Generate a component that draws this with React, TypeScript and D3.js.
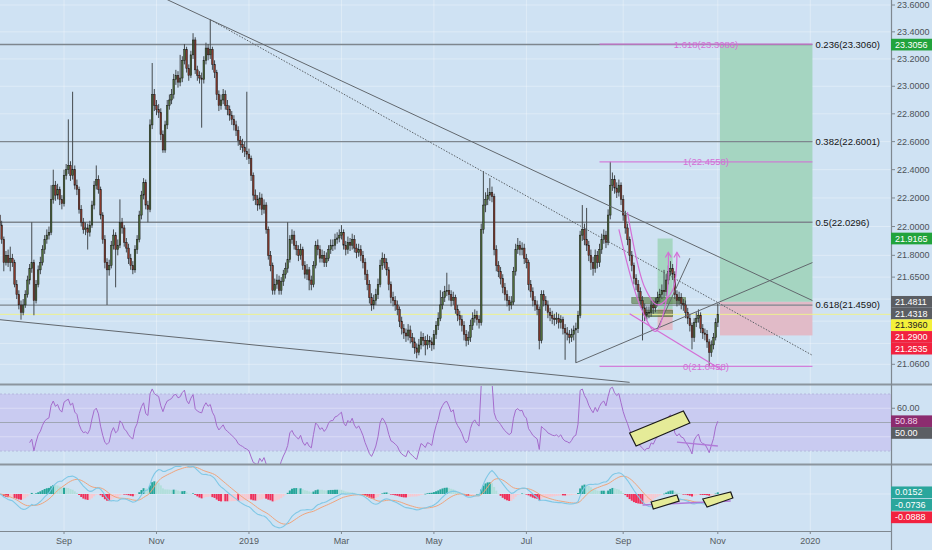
import React, { useMemo } from "react";
import * as d3 from "d3";

const W = 932;
const H = 550;
const FONT = "'Liberation Sans', Arial, sans-serif";

// ---- daily bars (Mon-Fri), first bar on START_DATE ----
const START_DATE = "2018-07-23";

const OPENS = [
  22.08, 22.01, 21.91, 21.75, 21.80, 21.75, 21.78, 21.75, 21.60, 21.53,
  21.46, 21.41, 21.46, 21.53, 21.63, 21.71, 21.75, 21.49, 21.60, 21.70,
  21.75, 21.84, 21.91, 21.94, 21.96, 22.19, 22.29, 22.22, 22.26, 22.19,
  22.16, 22.36, 22.40, 22.43, 22.36, 22.40, 22.29, 22.26, 22.12, 22.03,
  21.98, 21.99, 21.96, 22.01, 22.15, 22.29, 22.33, 22.26, 22.08, 21.91,
  21.75, 21.70, 21.73, 21.87, 21.94, 21.84, 21.87, 22.03, 21.99, 21.89,
  21.85, 21.78, 21.73, 21.70, 21.84, 21.91, 22.08, 22.22, 22.31, 22.15,
  22.12, 22.72, 22.94, 22.86, 22.83, 22.81, 22.65, 22.54, 22.72, 22.86,
  22.90, 22.94, 23.05, 23.08, 23.03, 23.06, 23.19, 23.27, 23.13, 23.08,
  23.23, 23.34, 23.12, 23.08, 23.06, 23.05, 23.19, 23.28, 23.23, 23.27,
  23.16, 23.10, 22.94, 22.86, 22.90, 22.94, 22.86, 22.83, 22.79, 22.76,
  22.72, 22.68, 22.61, 22.58, 22.56, 22.53, 22.51, 22.48, 22.36, 22.22,
  22.19, 22.15, 22.20, 22.12, 22.15, 21.98, 21.80, 21.73, 21.56, 21.60,
  21.63, 21.56, 21.62, 21.67, 21.71, 21.77, 21.91, 21.94, 21.87, 21.84,
  21.80, 21.84, 21.73, 21.67, 21.70, 21.63, 21.60, 21.73, 21.87, 21.84,
  21.78, 21.80, 21.75, 21.78, 21.84, 21.87, 21.87, 21.91, 21.92, 21.94,
  21.96, 21.87, 21.84, 21.89, 21.87, 21.91, 21.85, 21.82, 21.84, 21.80,
  21.75, 21.67, 21.60, 21.51, 21.46, 21.49, 21.53, 21.60, 21.73, 21.78,
  21.75, 21.70, 21.60, 21.51, 21.49, 21.46, 21.43, 21.35, 21.30, 21.27,
  21.25, 21.29, 21.24, 21.21, 21.17, 21.14, 21.19, 21.24, 21.22, 21.19,
  21.22, 21.21, 21.19, 21.26, 21.32, 21.37, 21.46, 21.51, 21.55, 21.56,
  21.53, 21.49, 21.51, 21.43, 21.39, 21.36, 21.32, 21.26, 21.22, 21.24,
  21.32, 21.37, 21.39, 21.36, 21.34, 21.98, 22.15, 22.19, 22.22, 22.24,
  22.21, 21.84, 21.73, 21.69, 21.64, 21.58, 21.53, 21.49, 21.46, 21.48,
  21.69, 21.84, 21.87, 21.84, 21.85, 21.78, 21.75, 21.60, 21.55, 21.49,
  21.46, 21.43, 21.22, 21.53, 21.49, 21.46, 21.41, 21.39, 21.37, 21.36,
  21.37, 21.34, 21.36, 21.30, 21.27, 21.26, 21.24, 21.26, 21.29, 21.30,
  21.39, 21.94, 21.98, 21.91, 21.87, 21.80, 21.75, 21.71, 21.80, 21.75,
  21.84, 21.91, 21.94, 21.89, 22.08, 22.29, 22.33, 22.27, 22.24, 22.29,
  22.19, 22.08, 21.99, 21.91, 21.80, 21.73, 21.64, 21.60, 21.55, 21.49,
  21.44, 21.39, 21.41, 21.41, 21.46, 21.44, 21.48, 21.51, 21.53, 21.56,
  21.55, 21.63, 21.69, 21.71, 21.67, 21.53, 21.49, 21.51, 21.47, 21.46,
  21.41, 21.37, 21.32, 21.24, 21.34, 21.37, 21.39, 21.30, 21.27, 21.26,
  21.21, 21.14, 21.19, 21.24, 21.34,
];

const CLOSES = [
  22.01, 21.91, 21.75, 21.80, 21.75, 21.78, 21.75, 21.60, 21.53, 21.46,
  21.41, 21.46, 21.53, 21.63, 21.71, 21.75, 21.49, 21.60, 21.70, 21.75,
  21.84, 21.91, 21.94, 21.96, 22.19, 22.29, 22.22, 22.26, 22.19, 22.16,
  22.36, 22.40, 22.43, 22.36, 22.40, 22.29, 22.26, 22.12, 22.03, 21.98,
  21.99, 21.96, 22.01, 22.15, 22.29, 22.33, 22.26, 22.08, 21.91, 21.75,
  21.70, 21.73, 21.87, 21.94, 21.84, 21.87, 22.03, 21.99, 21.89, 21.85,
  21.78, 21.73, 21.70, 21.84, 21.91, 22.08, 22.22, 22.31, 22.15, 22.12,
  22.72, 22.94, 22.86, 22.83, 22.81, 22.65, 22.54, 22.72, 22.86, 22.90,
  22.94, 23.05, 23.08, 23.03, 23.06, 23.19, 23.27, 23.13, 23.08, 23.23,
  23.34, 23.12, 23.08, 23.06, 23.05, 23.19, 23.28, 23.23, 23.27, 23.16,
  23.10, 22.94, 22.86, 22.90, 22.94, 22.86, 22.83, 22.79, 22.76, 22.72,
  22.68, 22.61, 22.58, 22.56, 22.53, 22.51, 22.48, 22.36, 22.22, 22.19,
  22.15, 22.20, 22.12, 22.15, 21.98, 21.80, 21.73, 21.56, 21.60, 21.63,
  21.56, 21.62, 21.67, 21.71, 21.77, 21.91, 21.94, 21.87, 21.84, 21.80,
  21.84, 21.73, 21.67, 21.70, 21.63, 21.60, 21.73, 21.87, 21.84, 21.78,
  21.80, 21.75, 21.78, 21.84, 21.87, 21.87, 21.91, 21.92, 21.94, 21.96,
  21.87, 21.84, 21.89, 21.87, 21.91, 21.85, 21.82, 21.84, 21.80, 21.75,
  21.67, 21.60, 21.51, 21.46, 21.49, 21.53, 21.60, 21.73, 21.78, 21.75,
  21.70, 21.60, 21.51, 21.49, 21.46, 21.43, 21.35, 21.30, 21.27, 21.25,
  21.29, 21.24, 21.21, 21.17, 21.14, 21.19, 21.24, 21.22, 21.19, 21.22,
  21.21, 21.19, 21.26, 21.32, 21.37, 21.46, 21.51, 21.55, 21.56, 21.53,
  21.49, 21.51, 21.43, 21.39, 21.36, 21.32, 21.26, 21.22, 21.24, 21.32,
  21.37, 21.39, 21.36, 21.34, 21.98, 22.15, 22.19, 22.22, 22.24, 22.21,
  21.84, 21.73, 21.69, 21.64, 21.58, 21.53, 21.49, 21.46, 21.48, 21.69,
  21.84, 21.87, 21.84, 21.85, 21.78, 21.75, 21.60, 21.55, 21.49, 21.46,
  21.43, 21.22, 21.53, 21.49, 21.46, 21.41, 21.39, 21.37, 21.36, 21.37,
  21.34, 21.36, 21.30, 21.27, 21.26, 21.24, 21.26, 21.29, 21.30, 21.39,
  21.94, 21.98, 21.91, 21.87, 21.80, 21.75, 21.71, 21.80, 21.75, 21.84,
  21.91, 21.94, 21.89, 22.08, 22.29, 22.33, 22.27, 22.24, 22.29, 22.19,
  22.08, 21.99, 21.91, 21.80, 21.73, 21.64, 21.60, 21.55, 21.49, 21.44,
  21.39, 21.41, 21.41, 21.46, 21.44, 21.48, 21.51, 21.53, 21.56, 21.55,
  21.63, 21.69, 21.71, 21.67, 21.53, 21.49, 21.51, 21.47, 21.46, 21.41,
  21.37, 21.32, 21.24, 21.34, 21.37, 21.39, 21.30, 21.27, 21.26, 21.21,
  21.14, 21.19, 21.24, 21.34, 21.396,
];

const HIGHS = [
  22.12, 22.04, 21.93, 21.83, 21.84, 21.86, 21.81, 21.77, 21.63, 21.56,
  21.49, 21.50, 21.56, 21.66, 21.74, 22.03, 21.77, 21.63, 21.73, 21.79,
  21.87, 21.94, 21.98, 22.00, 22.29, 22.40, 22.32, 22.30, 22.28, 22.22,
  22.40, 22.44, 22.76, 22.46, 22.96, 22.43, 22.33, 22.28, 22.15, 22.06,
  22.03, 22.02, 22.04, 22.18, 22.32, 22.43, 22.36, 22.28, 22.10, 21.94,
  21.78, 21.77, 21.90, 21.98, 21.96, 21.91, 22.19, 22.06, 22.01, 21.92,
  21.88, 21.81, 21.76, 21.87, 21.94, 22.11, 22.25, 22.34, 22.33, 22.18,
  22.76, 23.17, 22.98, 22.90, 22.87, 22.84, 22.68, 22.75, 22.90, 22.94,
  22.98, 23.09, 23.12, 23.11, 23.23, 23.22, 23.31, 23.29, 23.16, 23.26,
  23.39, 23.36, 23.15, 23.11, 23.10, 23.22, 23.32, 23.31, 23.49, 23.29,
  23.19, 23.12, 22.97, 22.94, 22.98, 22.97, 22.90, 22.86, 22.82, 22.79,
  22.75, 22.71, 22.64, 22.62, 22.60, 22.96, 22.55, 22.50, 22.38, 22.26,
  22.22, 22.24, 22.23, 22.19, 22.17, 22.00, 21.83, 21.75, 21.64, 21.67,
  21.66, 21.65, 21.70, 21.75, 22.03, 21.94, 21.98, 21.97, 21.90, 21.87,
  21.88, 21.86, 21.76, 21.74, 21.72, 21.66, 21.76, 21.90, 21.91, 21.87,
  21.84, 21.83, 21.82, 21.87, 21.91, 21.91, 21.95, 21.96, 21.98, 22.01,
  21.98, 21.90, 21.93, 21.92, 21.95, 21.94, 21.88, 21.88, 21.87, 21.83,
  21.78, 21.70, 21.63, 21.54, 21.53, 21.57, 21.64, 21.77, 21.82, 21.81,
  21.78, 21.72, 21.62, 21.55, 21.52, 21.49, 21.45, 21.38, 21.33, 21.30,
  21.33, 21.32, 21.27, 21.24, 21.20, 21.23, 21.28, 21.27, 21.25, 21.26,
  21.25, 21.24, 21.29, 21.35, 21.41, 21.56, 21.55, 21.59, 21.68, 21.60,
  21.56, 21.55, 21.53, 21.46, 21.42, 21.39, 21.35, 21.29, 21.28, 21.36,
  21.41, 21.43, 21.42, 21.39, 22.02, 22.39, 22.24, 22.27, 22.34, 22.28,
  22.23, 21.87, 21.76, 21.72, 21.67, 21.61, 21.56, 21.52, 21.52, 21.72,
  21.88, 21.92, 21.90, 21.89, 21.88, 21.81, 21.77, 21.63, 21.58, 21.52,
  21.49, 21.45, 21.56, 21.56, 21.52, 21.49, 21.44, 21.42, 21.40, 21.41,
  21.40, 21.39, 21.38, 21.33, 21.31, 21.29, 21.30, 21.32, 21.34, 21.42,
  21.97, 22.15, 22.02, 22.13, 21.90, 21.84, 21.79, 21.84, 21.83, 21.88,
  21.95, 21.98, 21.97, 22.12, 22.456, 22.38, 22.36, 22.31, 22.33, 22.31,
  22.22, 22.11, 22.02, 21.93, 21.83, 21.75, 21.67, 21.63, 21.58, 21.52,
  21.47, 21.45, 21.45, 21.49, 21.49, 21.51, 21.55, 21.57, 21.60, 21.70,
  21.67, 21.73, 21.76, 21.74, 21.69, 21.56, 21.55, 21.54, 21.50, 21.49,
  21.44, 21.40, 21.34, 21.37, 21.41, 21.43, 21.41, 21.33, 21.30, 21.29,
  21.23, 21.22, 21.27, 21.37, 21.47,
];

const LOWS = [
  21.97, 21.88, 21.69, 21.73, 21.72, 21.69, 21.72, 21.58, 21.50, 21.43,
  21.36, 21.39, 21.44, 21.51, 21.60, 21.68, 21.39, 21.47, 21.58, 21.67,
  21.73, 21.81, 21.88, 21.91, 21.94, 22.16, 22.18, 22.19, 22.15, 22.12,
  22.14, 22.33, 22.37, 22.32, 22.33, 22.26, 22.22, 22.09, 22.00, 21.95,
  21.94, 21.84, 21.93, 21.99, 22.12, 22.26, 22.23, 22.05, 21.88, 21.71,
  21.46, 21.66, 21.71, 21.84, 21.58, 21.80, 21.85, 21.95, 21.86, 21.82,
  21.74, 21.70, 21.67, 21.68, 21.81, 21.89, 22.05, 22.19, 22.12, 22.03,
  22.10, 22.69, 22.82, 22.79, 22.77, 22.61, 22.52, 22.52, 22.69, 22.83,
  22.87, 22.91, 23.01, 22.99, 23.00, 23.03, 23.16, 23.10, 23.04, 23.06,
  23.20, 23.09, 23.04, 23.02, 22.70, 23.02, 23.16, 23.19, 23.20, 23.12,
  23.06, 22.90, 22.82, 22.83, 22.87, 22.83, 22.79, 22.75, 22.72, 22.68,
  22.64, 22.57, 22.54, 22.52, 22.49, 22.47, 22.44, 22.32, 22.18, 22.15,
  22.11, 22.12, 22.08, 22.09, 21.95, 21.77, 21.69, 21.53, 21.53, 21.57,
  21.53, 21.53, 21.59, 21.64, 21.68, 21.75, 21.88, 21.84, 21.80, 21.76,
  21.77, 21.70, 21.64, 21.63, 21.56, 21.56, 21.58, 21.71, 21.80, 21.75,
  21.75, 21.72, 21.72, 21.76, 21.81, 21.83, 21.84, 21.88, 21.89, 21.91,
  21.84, 21.80, 21.81, 21.83, 21.84, 21.82, 21.78, 21.79, 21.76, 21.71,
  21.63, 21.56, 21.47, 21.42, 21.43, 21.46, 21.50, 21.58, 21.70, 21.71,
  21.66, 21.56, 21.47, 21.45, 21.42, 21.39, 21.31, 21.26, 21.23, 21.21,
  21.22, 21.20, 21.17, 21.13, 21.10, 21.12, 21.16, 21.18, 21.12, 21.16,
  21.17, 21.15, 21.16, 21.23, 21.29, 21.35, 21.43, 21.48, 21.52, 21.49,
  21.45, 21.46, 21.40, 21.35, 21.32, 21.28, 21.22, 21.18, 21.19, 21.21,
  21.29, 21.34, 21.32, 21.30, 21.32, 21.95, 22.10, 22.15, 22.18, 22.17,
  21.80, 21.69, 21.65, 21.60, 21.54, 21.49, 21.45, 21.42, 21.43, 21.46,
  21.66, 21.81, 21.80, 21.80, 21.74, 21.71, 21.56, 21.51, 21.45, 21.42,
  21.39, 21.16, 21.20, 21.45, 21.42, 21.37, 21.35, 21.33, 21.32, 21.33,
  21.30, 21.30, 21.26, 21.09, 21.22, 21.20, 21.21, 21.22, 21.07, 21.27,
  21.37, 21.90, 21.87, 21.83, 21.76, 21.70, 21.66, 21.68, 21.71, 21.72,
  21.81, 21.88, 21.85, 21.87, 22.05, 22.25, 22.23, 22.20, 22.21, 22.15,
  22.04, 21.95, 21.87, 21.76, 21.69, 21.60, 21.56, 21.51, 21.45, 21.22,
  21.35, 21.36, 21.37, 21.38, 21.40, 21.41, 21.45, 21.48, 21.50, 21.51,
  21.52, 21.60, 21.66, 21.63, 21.50, 21.45, 21.46, 21.43, 21.42, 21.37,
  21.33, 21.28, 21.16, 21.21, 21.31, 21.34, 21.27, 21.23, 21.22, 21.17,
  21.046, 21.11, 21.16, 21.22, 21.31,
];

// ---- axes ----
const PRICE_TICKS = [23.6, 23.4, 23.2, 23.0, 22.8, 22.6, 22.4, 22.2, 22.0, 21.8, 21.65, 21.5, 21.35, 21.2, 21.06];
const RSI_TICKS = [60, 40];
const TIME_TICKS = ["2018-09-01", "2018-11-01", "2019-01-01", "2019-03-01", "2019-05-01", "2019-07-01", "2019-09-01", "2019-11-01", "2020-01-01"];
const RIGHT_EDGE = "2020-01-02";

// ---- fib retracement (gray) ----
const FIB_RATIOS = ["0.236", "0.382", "0.5", "0.618"];
const FIB_PRICES = [23.306, 22.6001, 22.0296, 21.459];

// ---- fib extension (pink) ----
const EXT_START = "2019-08-16";
const EXT_RATIOS = ["1.618", "1", "0"];
const EXT_PRICES = [23.3086, 22.4558, 21.0458];

// ---- position tools ----
const LONG_DATES = ["2019-11-04", RIGHT_EDGE];
const LONG_PRICES = [23.3056, 21.4811, 21.2535]; // target, entry, stop
const SMALL_DATES = ["2019-09-24", "2019-10-03"];
const SMALL_PRICES = [21.9165, 21.4318, 21.29];

// ---- trend lines ----
const DOWN_LINE: [string, number][] = [["2018-11-08", 23.64], [RIGHT_EDGE, 21.49]];
const DOTTED_LINE: [string, number][] = [["2018-12-06", 23.49], [RIGHT_EDGE, 21.12]];
const WEDGE_LOW: [string, number][] = [["2018-07-23", 21.36], ["2019-09-05", 20.94]];
const UP_LINE: [string, number][] = [["2019-08-01", 21.07], [RIGHT_EDGE, 21.75]];
const SHORT_LINE: [string, number][] = [["2019-09-24", 21.30], ["2019-10-15", 21.78]];
const PINK_CHANNEL: [string, number][] = [["2019-09-05", 21.40], ["2019-11-05", 21.02]];
const CUP_OUTER: [string, number][] = [["2019-08-29", 21.98], ["2019-09-12", 21.45], ["2019-09-23", 21.28], ["2019-09-30", 21.49], ["2019-10-01", 21.82]];
const CUP_INNER: [string, number][] = [["2019-09-04", 22.10], ["2019-09-16", 21.58], ["2019-09-24", 21.46], ["2019-10-03", 21.56], ["2019-10-07", 21.82]];
const BOX_DATES = [["2019-09-06", "2019-10-11"], ["2019-09-16", "2019-10-03"]];
const BOX_PRICES = [[21.51, 21.47], [21.425, 21.38]];

// ---- oscillator annotations ----
const RSI_NOTE_BOX: [string, number][] = [["2019-09-05", 42.6], ["2019-10-10", 58.1], ["2019-10-15", 49.6], ["2019-09-10", 33.5]];
const RSI_NOTE_LINE: [string, number][] = [["2019-10-07", 36.3], ["2019-11-01", 33.5]];
const MACD_NOTE_BOX_A: [string, number][] = [["2019-09-19", -0.0727], ["2019-10-07", -0.0091], ["2019-10-08", -0.0636], ["2019-09-20", -0.1364]];
const MACD_NOTE_BOX_B: [string, number][] = [["2019-10-23", -0.0455], ["2019-11-11", 0.0182], ["2019-11-12", -0.0364], ["2019-10-25", -0.1182]];
const MACD_NOTE_LINE: [string, number][] = [["2019-09-13", -0.1], ["2019-11-11", -0.0636]];

// ---- layout ----
const PLOT_R = 891;
const MAIN = { top: 0, bottom: 384 };
const RSI_P = { top: 386, bottom: 464 };
const MACD_P = { top: 466, bottom: 531 };

const BG = "#cfe2f3";
const GRID = "rgba(255,255,255,0.32)";
const UP = "#4e6d3a";
const DOWN = "#8a3a2c";
const PINK = "#d46fd6";

const parseDay = d3.utcParse("%Y-%m-%d");
const startDay = parseDay(START_DATE) as Date;

// trading-day index of a calendar date (weekends roll to next Monday)
function dayIndex(s: string): number {
  const d = parseDay(s) as Date;
  const days = Math.round((+d - +startDay) / 864e5);
  const week = Math.floor(days / 7);
  const dow = days - week * 7;
  return dow >= 5 ? (week + 1) * 5 : week * 5 + dow;
}

function ema(vals: number[], n: number): number[] {
  const k = 2 / (n + 1);
  const out: number[] = [];
  vals.forEach((v, i) => out.push(i === 0 ? v : v * k + out[i - 1] * (1 - k)));
  return out;
}

function rsiSeries(c: number[], n = 14): number[] {
  const out = c.map(() => NaN);
  let g = 0, l = 0;
  for (let i = 1; i <= n; i++) {
    const d = c[i] - c[i - 1];
    g += Math.max(d, 0);
    l += Math.max(-d, 0);
  }
  g /= n; l /= n;
  out[n] = 100 - 100 / (1 + g / l);
  for (let i = n + 1; i < c.length; i++) {
    const d = c[i] - c[i - 1];
    g = (g * (n - 1) + Math.max(d, 0)) / n;
    l = (l * (n - 1) + Math.max(-d, 0)) / n;
    out[i] = l === 0 ? 100 : 100 - 100 / (1 + g / l);
  }
  return out;
}

type Tag = { v: number; y: number; label: string; fill: string; text: string };
function stack(tags: Tag[], h: number) {
  const s = [...tags].sort((a, b) => a.y - b.y);
  let prev = -Infinity;
  return s.map((t) => {
    const ty = Math.max(t.y, prev + h);
    prev = ty;
    return { ...t, ty };
  });
}

export default function App() {
  const m = useMemo(() => {
    const n = CLOSES.length;
    const x = d3.scaleLinear().domain([0, n - 1]).range([-0.5, 717.8]);
    const y = d3.scaleLog().domain([21.06, 23.6]).range([364.3, 5]);
    const yR = d3.scaleLinear().domain([30, 70]).range([451, 394]);
    const yM = d3.scaleLinear().domain([-0.3182, 0.2545]).range([529, 466]);
    const xd = (s: string) => x(dayIndex(s));

    const rsi = rsiSeries(CLOSES);
    const e12 = ema(CLOSES, 12);
    const e26 = ema(CLOSES, 26);
    const macd = e12.map((v, i) => v - e26[i]);
    const signal = ema(macd, 9);
    const hist = macd.map((v, i) => v - signal[i]);
    const histColor = hist.map((h, i) => {
      const prev = i > 0 ? hist[i - 1] : h;
      if (h >= 0) return prev < h ? "#26a69a" : "#b2dfdb";
      return prev < h ? "#f8c8d0" : "#f0305a";
    });
    return { n, x, y, yR, yM, xd, rsi, macd, signal, hist, histColor };
  }, []);

  const { n, x, y, yR, yM, xd, rsi, macd, signal, hist, histColor } = m;
  const P = (pts: [string, number][], ys: (v: number) => number) =>
    pts.map(([d, v]) => [xd(d), ys(v)] as [number, number]);
  const lineGen = d3.line<[number, number]>();
  const curveGen = d3.line<[number, number]>().curve(d3.curveCatmullRom.alpha(0.5));

  const rightX = xd(RIGHT_EDGE);
  const last = n - 1;
  const lastClose = CLOSES[last];

  const mainTags = stack(
    [
      { v: LONG_PRICES[0], label: LONG_PRICES[0].toFixed(4), fill: "#21a33c", text: "#fff" },
      { v: SMALL_PRICES[0], label: SMALL_PRICES[0].toFixed(4), fill: "#21a33c", text: "#fff" },
      { v: LONG_PRICES[1], label: LONG_PRICES[1].toFixed(4), fill: "#5b5e63", text: "#fff" },
      { v: SMALL_PRICES[1], label: SMALL_PRICES[1].toFixed(4), fill: "#5b5e63", text: "#fff" },
      { v: lastClose, label: lastClose.toFixed(4), fill: "#f4f03a", text: "#222" },
      { v: SMALL_PRICES[2], label: SMALL_PRICES[2].toFixed(4), fill: "#f2223f", text: "#fff" },
      { v: LONG_PRICES[2], label: LONG_PRICES[2].toFixed(4), fill: "#f2223f", text: "#fff" },
    ].map((t) => ({ ...t, y: y(t.v) })),
    11.7
  );
  const rsiTags = stack(
    [
      { v: rsi[last], label: rsi[last].toFixed(2), fill: "#8c2c6f", text: "#f3d2ea" },
      { v: 50, label: "50.00", fill: "#5b5e63", text: "#fff" },
    ].map((t) => ({ ...t, y: yR(t.v) })),
    11.7
  );
  const macdTags = stack(
    [
      { v: hist[last], label: hist[last].toFixed(4), fill: "#2aa69c", text: "#fff" },
      { v: macd[last], label: macd[last].toFixed(4), fill: "#2aa69c", text: "#fff" },
      { v: signal[last], label: signal[last].toFixed(4), fill: "#f2223f", text: "#fff" },
    ].map((t) => ({ ...t, y: yM(t.v) })),
    12.5
  );

  // axis labels that would sit underneath a value tag are left out
  const freeOf = (tags: { ty: number }[], py: number) => tags.every((t) => Math.abs(t.ty - py) >= 10);

  const timeTicks = TIME_TICKS.map((s) => {
    const d = parseDay(s) as Date;
    return { x: xd(s), label: d.getUTCMonth() === 0 ? d3.utcFormat("%Y")(d) : d3.utcFormat("%b")(d) };
  });

  const arrowHead = (pts: [number, number][]) => {
    const [ex, ey] = pts[pts.length - 1];
    return `M${ex - 3},${ey + 5}L${ex},${ey}L${ex + 3},${ey + 5}`;
  };

  const barW = 1.6;

  const renderTags = (tags: any[]) =>
    tags.map((t, i) => (
      <g key={i} transform={`translate(${PLOT_R},${t.ty})`}>
        <rect x={0} y={-5.85} width={W - PLOT_R} height={11.7} fill={t.fill} />
        <text x={4} dy="0.35em" fontSize={9} fill={t.text}>{t.label}</text>
      </g>
    ));

  const cupOuter = P(CUP_OUTER, y);
  const cupInner = P(CUP_INNER, y);

  return (
    <svg width={W} height={H} style={{ position: "absolute", left: 0, top: 0, fontFamily: FONT }}>
      <defs>
        <clipPath id="clip-main"><rect x={0} y={MAIN.top} width={PLOT_R} height={MAIN.bottom - MAIN.top} /></clipPath>
        <clipPath id="clip-rsi"><rect x={0} y={RSI_P.top} width={PLOT_R} height={RSI_P.bottom - RSI_P.top} /></clipPath>
        <clipPath id="clip-macd"><rect x={0} y={MACD_P.top} width={PLOT_R} height={MACD_P.bottom - MACD_P.top} /></clipPath>
      </defs>
      <rect width={W} height={H} fill={BG} />

      {/* vertical grid */}
      {timeTicks.map((t, i) => (
        <line key={i} x1={t.x} x2={t.x} y1={0} y2={MACD_P.bottom} stroke={GRID} />
      ))}

      {/* ===== price pane ===== */}
      <g clipPath="url(#clip-main)">
        {PRICE_TICKS.map((p, i) => (
          <line key={i} x1={0} x2={PLOT_R} y1={y(p)} y2={y(p)} stroke={GRID} />
        ))}

        {/* long position */}
        <rect x={xd(LONG_DATES[0])} width={xd(LONG_DATES[1]) - xd(LONG_DATES[0])} y={y(LONG_PRICES[0])} height={y(LONG_PRICES[1]) - y(LONG_PRICES[0])} fill="#a5d5c1" />
        <rect x={xd(LONG_DATES[0])} width={xd(LONG_DATES[1]) - xd(LONG_DATES[0])} y={y(LONG_PRICES[1])} height={y(LONG_PRICES[2]) - y(LONG_PRICES[1])} fill="#e1bbc8" />
        {/* small position */}
        <rect x={xd(SMALL_DATES[0])} width={xd(SMALL_DATES[1]) - xd(SMALL_DATES[0])} y={y(SMALL_PRICES[0])} height={y(SMALL_PRICES[1]) - y(SMALL_PRICES[0])} fill="#a5d5c1" />
        <rect x={xd(SMALL_DATES[0])} width={xd(SMALL_DATES[1]) - xd(SMALL_DATES[0])} y={y(SMALL_PRICES[1])} height={y(SMALL_PRICES[2]) - y(SMALL_PRICES[1])} fill="#e1bbc8" />
        {BOX_DATES.map((d, i) => (
          <rect key={i} x={xd(d[0])} width={xd(d[1]) - xd(d[0])} y={y(BOX_PRICES[i][0])} height={y(BOX_PRICES[i][1]) - y(BOX_PRICES[i][0])} fill="rgba(70,110,40,0.55)" stroke="rgba(60,90,30,0.7)" strokeWidth={0.6} />
        ))}

        {/* fib retracement levels */}
        {FIB_PRICES.map((p, i) => (
          <line key={i} x1={0} x2={rightX} y1={y(p)} y2={y(p)} stroke="#7e868e" strokeWidth={1.4} />
        ))}

        {/* last price line */}
        <line x1={0} x2={PLOT_R} y1={y(lastClose)} y2={y(lastClose)} stroke="rgba(238,242,140,0.95)" strokeWidth={1} />

        {/* candles */}
        {CLOSES.map((c, i) => {
          const o = OPENS[i];
          const cx = x(i);
          const top = y(Math.max(o, c));
          const bot = y(Math.min(o, c));
          return (
            <g key={i}>
              <line x1={cx} x2={cx} y1={y(HIGHS[i])} y2={y(LOWS[i])} stroke="#444a4e" strokeWidth={1} />
              <rect x={cx - barW / 2} width={barW} y={top} height={Math.max(0.8, bot - top)} fill={c >= o ? UP : DOWN} stroke="#1c1c1c" strokeWidth={0.5} />
            </g>
          );
        })}

        {/* trend lines */}
        {[DOWN_LINE, WEDGE_LOW, UP_LINE, SHORT_LINE].map((l, i) => (
          <path key={i} d={lineGen(P(l, y)) || ""} stroke="#62686e" strokeWidth={1} fill="none" />
        ))}
        <path d={lineGen(P(DOTTED_LINE, y)) || ""} stroke="#5c6268" strokeWidth={1} strokeDasharray="1.5 1.5" fill="none" />

        {/* fib extension */}
        {EXT_PRICES.map((p, i) => (
          <g key={i}>
            <line x1={xd(EXT_START)} x2={rightX} y1={y(p)} y2={y(p)} stroke={PINK} strokeWidth={1.2} opacity={0.85} />
            <text x={(xd(EXT_START) + rightX) / 2} y={y(p)} dy="0.35em" textAnchor="middle" fontSize={9.5} fill={PINK}>
              {`${EXT_RATIOS[i]}(${p.toFixed(4)})`}
            </text>
          </g>
        ))}

        {/* pattern sketch */}
        <path d={lineGen(P(PINK_CHANNEL, y)) || ""} stroke={PINK} strokeWidth={1.3} fill="none" />
        <path d={curveGen(cupOuter) || ""} stroke={PINK} strokeWidth={1.2} fill="none" />
        <path d={curveGen(cupInner) || ""} stroke={PINK} strokeWidth={1.2} fill="none" />
        <path d={arrowHead(cupOuter)} stroke={PINK} strokeWidth={1.2} fill="none" />
        <path d={arrowHead(cupInner)} stroke={PINK} strokeWidth={1.2} fill="none" />
      </g>

      {/* fib labels */}
      {FIB_PRICES.map((p, i) => (
        <text key={i} x={rightX + 3} y={y(p)} dy="0.35em" fontSize={9.5} fill="#151515">
          {`${FIB_RATIOS[i]}(${p.toFixed(4)})`}
        </text>
      ))}

      {/* ===== RSI pane ===== */}
      <g clipPath="url(#clip-rsi)">
        <rect x={0} width={PLOT_R} y={yR(70)} height={yR(30) - yR(70)} fill="#c9cbf1" />
        <line x1={0} x2={PLOT_R} y1={yR(70)} y2={yR(70)} stroke="#b4b8de" strokeDasharray="2 2" />
        <line x1={0} x2={PLOT_R} y1={yR(30)} y2={yR(30)} stroke="#b4b8de" strokeDasharray="2 2" />
        <line x1={0} x2={PLOT_R} y1={yR(50)} y2={yR(50)} stroke="#9fa6b4" />
        {RSI_TICKS.map((t, i) => (
          <line key={i} x1={0} x2={PLOT_R} y1={yR(t)} y2={yR(t)} stroke={GRID} />
        ))}
        <path
          d={d3.line<number>().defined((v) => !isNaN(v)).x((_, i) => x(i)).y((v) => yR(v))(rsi) || ""}
          stroke="#a46ccc" strokeWidth={1} fill="none"
        />
        <polygon points={P(RSI_NOTE_BOX, yR).map((p) => p.join(",")).join(" ")} fill="#e5eb98" stroke="#1a1a1a" strokeWidth={1.2} />
        <path d={lineGen(P(RSI_NOTE_LINE, yR)) || ""} stroke="#b07ad8" strokeWidth={1.3} fill="none" />
      </g>

      {/* ===== MACD pane ===== */}
      <g clipPath="url(#clip-macd)">
        <line x1={0} x2={PLOT_R} y1={yM(0)} y2={yM(0)} stroke={GRID} />
        {hist.map((h, i) => (
          <rect key={i} x={x(i) - 1} width={2} y={Math.min(yM(0), yM(h))} height={Math.max(0.6, Math.abs(yM(h) - yM(0)))} fill={histColor[i]} />
        ))}
        <path d={d3.line<number>().x((_, i) => x(i)).y((v) => yM(v))(signal) || ""} stroke="#f0a47c" strokeWidth={1} fill="none" />
        <path d={d3.line<number>().x((_, i) => x(i)).y((v) => yM(v))(macd) || ""} stroke="#80c8e6" strokeWidth={1.1} fill="none" />
        <path d={lineGen(P(MACD_NOTE_LINE, yM)) || ""} stroke="#b07ad8" strokeWidth={1.3} fill="none" />
        <polygon points={P(MACD_NOTE_BOX_A, yM).map((p) => p.join(",")).join(" ")} fill="#e5eb98" stroke="#1a1a1a" strokeWidth={1.2} />
        <polygon points={P(MACD_NOTE_BOX_B, yM).map((p) => p.join(",")).join(" ")} fill="#e5eb98" stroke="#1a1a1a" strokeWidth={1.2} />
      </g>

      {/* pane separators */}
      <line x1={0} x2={W} y1={MAIN.bottom + 0.5} y2={MAIN.bottom + 0.5} stroke="#8c959e" strokeWidth={2} />
      <line x1={0} x2={W} y1={RSI_P.bottom + 0.5} y2={RSI_P.bottom + 0.5} stroke="#8c959e" strokeWidth={2} />

      {/* time axis */}
      <line x1={0} x2={PLOT_R} y1={MACD_P.bottom + 0.5} y2={MACD_P.bottom + 0.5} stroke="#7f8890" strokeWidth={1} />
      {timeTicks.map((t, i) => (
        <g key={i}>
          <line x1={t.x} x2={t.x} y1={MACD_P.bottom} y2={MACD_P.bottom + 3} stroke="#7f8890" />
          <text x={t.x} y={544} textAnchor="middle" fontSize={9} fill="#555b61">{t.label}</text>
        </g>
      ))}

      {/* price axis */}
      <line x1={PLOT_R + 0.5} x2={PLOT_R + 0.5} y1={0} y2={H} stroke="#7f8890" strokeWidth={1.2} />
      {PRICE_TICKS.map((p, i) => (
        <g key={i}>
          <line x1={PLOT_R} x2={PLOT_R + 4} y1={y(p)} y2={y(p)} stroke="#7f8890" />
          {freeOf(mainTags, y(p)) && (
            <text x={PLOT_R + 6} y={y(p)} dy="0.35em" fontSize={9} fill="#4c5258">{p.toFixed(4)}</text>
          )}
        </g>
      ))}
      {RSI_TICKS.map((t, i) => (
        <g key={i}>
          <line x1={PLOT_R} x2={PLOT_R + 4} y1={yR(t)} y2={yR(t)} stroke="#7f8890" />
          {freeOf(rsiTags, yR(t)) && (
            <text x={PLOT_R + 6} y={yR(t)} dy="0.35em" fontSize={9} fill="#4c5258">{t.toFixed(2)}</text>
          )}
        </g>
      ))}
      {renderTags(mainTags)}
      {renderTags(rsiTags)}
      {renderTags(macdTags)}
    </svg>
  );
}
